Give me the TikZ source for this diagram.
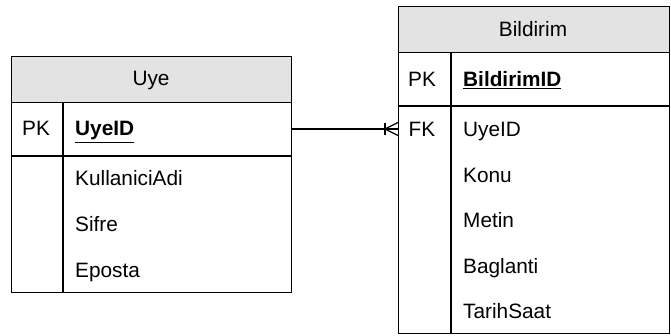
\documentclass[tikz,border=0pt]{standalone}
\usepackage{fontspec}
\setmainfont{Liberation Sans}
\definecolor{headgray}{HTML}{E3E3E3}
\newcommand{\keyname}[1]{\underline{\textbf{#1}}}
\begin{document}
\begin{tikzpicture}[x=1pt,y=-1pt,
  tbl/.style={draw=black,line width=1.4pt,inner sep=0pt,anchor=north west},
  hdr/.style={draw=black,line width=1.4pt,fill=headgray,inner sep=0pt,anchor=north west},
  field/.style={anchor=base west,inner sep=0pt,font=\fontsize{20.8}{22}\selectfont},
  key/.style={anchor=base,inner sep=0pt,font=\fontsize{20.8}{22}\selectfont},
  title/.style={anchor=base,inner sep=0pt,font=\fontsize{20.8}{22}\selectfont},
  rule/.style={draw=black,line width=1.4pt}]
\useasboundingbox (0,0) rectangle (671,336);

% ---- Uye table ----
\node[tbl,minimum width=280pt,minimum height=236pt] (uye) at (11,56) {};
\node[hdr,minimum width=280pt,minimum height=46pt] (uyehead) at (11,56) {};
\draw[rule] (11,156) -- (291,156);
\draw[rule] (63,102) -- (63,292);
\node[title] (uyet) at (151,86) {Uye};
\node[key] (uyepk) at (36,136) {PK};
\node[field] (uyeid) at (75,136) {\keyname{UyeID}};
\node[field] (kadi) at (75,186) {KullaniciAdi};
\node[field] (sifre) at (75,232) {Sifre};
\node[field] (eposta) at (75,277) {Eposta};

% ---- Bildirim table ----
\node[tbl,minimum width=271pt,minimum height=327pt] (bild) at (398,6) {};
\node[hdr,minimum width=271pt,minimum height=46pt] (bildhead) at (398,6) {};
\draw[rule] (398,106) -- (669,106);
\draw[rule] (451,52) -- (451,333);
\node[title] (bildt) at (533,37) {Bildirim};
\node[key] (bildpk) at (422,87) {PK};
\node[field] (bildid) at (463,87) {\keyname{BildirimID}};
\node[key] (bildfk) at (422,137) {FK};
\node[field] (fkid) at (463,137) {UyeID};
\node[field] (konu) at (463,183) {Konu};
\node[field] (metin) at (463,228) {Metin};
\node[field] (bagl) at (463,273) {Baglanti};
\node[field] (tarih) at (463,318) {TarihSaat};

% ---- relationship: one Uye to many Bildirim ----
\coordinate (relA) at (uye.east |- 0,129);
\coordinate (relB) at (bild.west |- 0,129);
\coordinate (foot) at (385,129);
\draw[line width=1.2pt] (relA) -- (relB);
\draw[line width=1.2pt] (foot) -- (398,122.5) (foot) -- (398,135.5);
\draw[line width=1.2pt] (foot |- 0,123) -- (foot |- 0,135);
\end{tikzpicture}
\end{document}
